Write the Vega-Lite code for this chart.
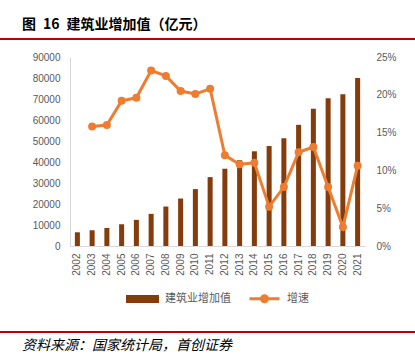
{
  "$schema": "https://vega.github.io/schema/vega-lite/v6.json",
  "background": "white",
  "padding": {"top": 18, "left": 0, "right": 0, "bottom": 0},
  "autosize": {"type": "pad"},
  "datasets": {
    "blank": [{"t": ""}],
    "main": [
      {"year": "2002", "value": 6530, "growth": null},
      {"year": "2003", "value": 7490, "growth": 0.158},
      {"year": "2004", "value": 8600, "growth": 0.160},
      {"year": "2005", "value": 10350, "growth": 0.192},
      {"year": "2006", "value": 12430, "growth": 0.196},
      {"year": "2007", "value": 15300, "growth": 0.232},
      {"year": "2008", "value": 18800, "growth": 0.225},
      {"year": "2009", "value": 22600, "growth": 0.205},
      {"year": "2010", "value": 27100, "growth": 0.201},
      {"year": "2011", "value": 32800, "growth": 0.208},
      {"year": "2012", "value": 36800, "growth": 0.120},
      {"year": "2013", "value": 40900, "growth": 0.108},
      {"year": "2014", "value": 45100, "growth": 0.110},
      {"year": "2015", "value": 47600, "growth": 0.052},
      {"year": "2016", "value": 51300, "growth": 0.078},
      {"year": "2017", "value": 57700, "growth": 0.124},
      {"year": "2018", "value": 65300, "growth": 0.131},
      {"year": "2019", "value": 70400, "growth": 0.078},
      {"year": "2020", "value": 72300, "growth": 0.025},
      {"year": "2021", "value": 80000, "growth": 0.106}
    ]
  },
  "columns": 1,
  "spacing": 7,
  "resolve": {"scale": {"color": "independent"}, "legend": {"color": "independent"}},
  "concat": [
    {
      "width": 415,
      "height": 2,
      "view": {"fill": "#c00000", "stroke": null},
      "title": {
        "text": "图\u200216\u2002建筑业增加值（亿元）",
        "anchor": "start",
        "dx": 22,
        "offset": 1,
        "font": "Noto Sans CJK SC",
        "fontSize": 14,
        "fontWeight": "bold",
        "color": "#000000"
      },
      "data": {"name": "blank"},
      "mark": {"type": "text"},
      "encoding": {"text": {"field": "t"}}
    },
    {
      "spacing": 0,
      "resolve": {"scale": {"color": "independent"}, "legend": {"color": "independent"}},
      "hconcat": [
        {
          "width": 1,
          "height": 1,
          "view": {"stroke": null},
          "data": {"name": "blank"},
          "mark": {"type": "text"},
          "encoding": {"text": {"field": "t"}}
        },
        {
          "width": 295,
          "height": 189,
          "data": {"name": "main"},
          "encoding": {
            "x": {
              "field": "year",
              "type": "ordinal",
              "scale": {"paddingInner": 0.66, "paddingOuter": 0.33},
              "axis": {
                "title": null,
                "labelAngle": 270,
                "ticks": false,
                "domain": true,
                "domainColor": "#d9d9d9",
                "domainWidth": 1,
                "labelPadding": 7,
                "labelFont": "Liberation Sans",
                "labelFontSize": 10,
                "labelColor": "#595959"
              }
            }
          },
          "layer": [
            {
              "mark": {"type": "bar"},
              "encoding": {
                "y": {
                  "field": "value",
                  "type": "quantitative",
                  "scale": {"domain": [0, 90000]},
                  "axis": {
                    "title": null,
                    "values": [0, 10000, 20000, 30000, 40000, 50000, 60000, 70000, 80000, 90000],
                    "format": "d",
                    "ticks": false,
                    "grid": false,
                    "domain": true,
                    "domainColor": "#d9d9d9",
                    "labelPadding": 10,
                    "minExtent": 69,
                    "labelFont": "Liberation Sans",
                    "labelFontSize": 10,
                    "labelColor": "#595959"
                  }
                },
                "color": {
                  "datum": "建筑业增加值",
                  "scale": {"domain": ["建筑业增加值", "增速"], "range": ["#843c0c", "#ed7d31"]},
                  "legend": {
                    "title": null,
                    "orient": "bottom",
                    "direction": "horizontal",
                    "offset": -5,
                    "padding": 11,
                    "symbolSize": 900,
                    "labelOffset": 6,
                    "columnPadding": 12,
                    "labelFont": "Noto Sans CJK SC",
                    "labelFontSize": 11,
                    "labelColor": "#595959",
                    "encode": {
                      "symbols": {
                        "update": {
                          "shape": {"signal": "datum.value === '增速' ? 'M-1,0H1M-0.2,0A0.2,0.2 0 1,1 0.2,0A0.2,0.2 0 1,1 -0.2,0Z' : 'M-1,-0.17H1V0.17H-1Z'"},
                          "fill": {"signal": "datum.value === '增速' ? '#ed7d31' : '#843c0c'"},
                          "stroke": {"signal": "datum.value === '增速' ? '#ed7d31' : 'transparent'"},
                          "strokeWidth": {"value": 3},
                          "opacity": {"value": 1},
                          "fillOpacity": {"value": 1}
                        }
                      }
                    }
                  }
                }
              }
            },
            {
              "mark": {"type": "line", "strokeWidth": 3, "point": {"filled": true, "size": 64}},
              "encoding": {
                "y": {
                  "field": "growth",
                  "type": "quantitative",
                  "scale": {"domain": [0, 0.25]},
                  "axis": {
                    "orient": "right",
                    "title": null,
                    "values": [0, 0.05, 0.1, 0.15, 0.2, 0.25],
                    "format": ".0%",
                    "ticks": false,
                    "grid": false,
                    "domain": false,
                    "labelPadding": 11,
                    "labelFont": "Liberation Sans",
                    "labelFontSize": 10,
                    "labelColor": "#595959"
                  }
                },
                "color": {"datum": "增速"}
              }
            }
          ],
          "resolve": {"scale": {"y": "independent"}}
        }
      ]
    },
    {
      "width": 415,
      "height": 2,
      "view": {"fill": "#c00000", "stroke": null},
      "title": {
        "text": "资料来源：国家统计局，首创证券",
        "orient": "bottom",
        "anchor": "start",
        "dx": 22,
        "offset": 2,
        "font": "Noto Sans CJK SC",
        "fontSize": 14,
        "fontStyle": "italic",
        "fontWeight": "normal",
        "color": "#000000"
      },
      "data": {"name": "blank"},
      "mark": {"type": "text"},
      "encoding": {"text": {"field": "t"}}
    }
  ],
  "config": {
    "font": "Liberation Sans",
    "view": {"stroke": null},
    "legend": {"layout": {"bottom": {"anchor": "middle"}}}
  }
}
